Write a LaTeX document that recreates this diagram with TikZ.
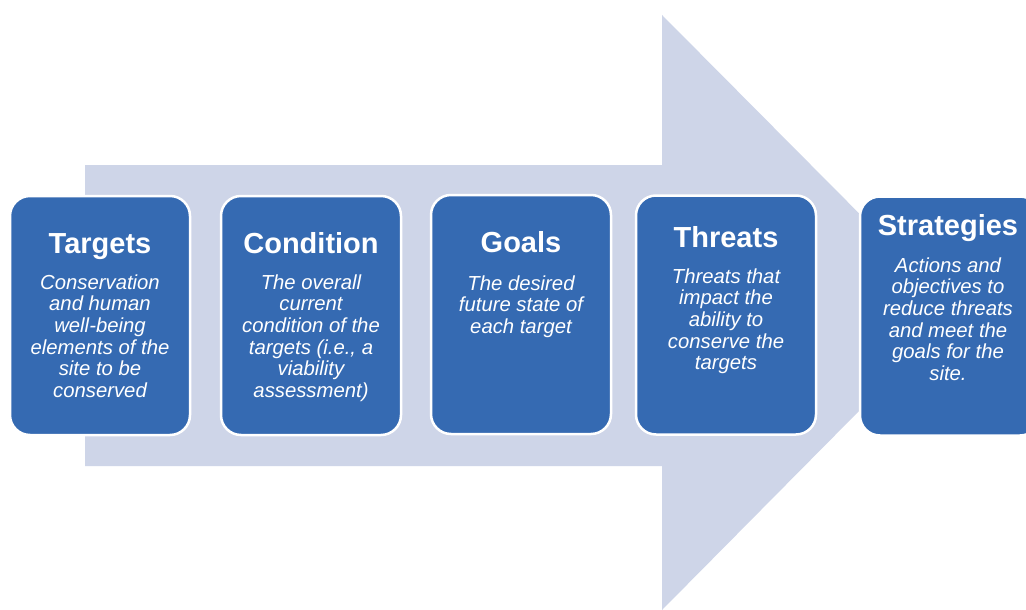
\documentclass[tikz,border=0pt]{standalone}
\usepackage{fontspec}
\setmainfont{Liberation Sans}
\definecolor{boxblue}{HTML}{356AB2}
\definecolor{arrowgray}{HTML}{CED5E8}
\tikzset{
  stagebox/.style={draw=white, line width=2.5pt, fill=boxblue, rounded corners=20pt, minimum width=180pt, minimum height=239pt, inner sep=0pt},
  stagetitle/.style={text=white, font=\fontsize{29}{33}\selectfont\bfseries, anchor=base, inner sep=0pt},
  stagebody/.style={text=white, font=\fontsize{20.3}{21.7}\selectfont\itshape, anchor=base, align=center, inner sep=0pt},
}
\begin{document}
\begin{tikzpicture}[x=1pt,y=-1pt]
\useasboundingbox (0,0) rectangle (1026,610);
\clip (0,0) rectangle (1026,610);
\fill[white] (0,0) rectangle (1026,610);
% big arrow
\fill[arrowgray] (85,165) -- (662,165) -- (662,15) -- (957,312) -- (662,610) -- (662,466) -- (85,466) -- cycle;
% boxes
\node[stagebox] (targets) at (100,315.5) {};
\node[stagebox] (condition) at (311,315.5) {};
\node[stagebox] (goals) at (521,314.5) {};
\node[stagebox] (threats) at (726,315) {};
\node[stagebox] (strategies) at (950,316) {};
% titles
\node[stagetitle] (t1) at (100,253) {Targets};
\node[stagetitle] (t2) at (311,253) {Condition};
\node[stagetitle] (t3) at (521,252) {Goals};
\node[stagetitle] (t4) at (726,247) {Threats};
\node[stagetitle] (t5) at (948,235) {Strategies};
% bodies (base = last line's baseline)
\node[stagebody] (b1) at (100,397.5) {Conservation\\and human\\well-being\\elements of the\\site to be\\conserved};
\node[stagebody] (b2) at (311,397.5) {The overall\\current\\condition of the\\targets (i.e., a\\viability\\assessment)};
\node[stagebody] (b3) at (521,333.4) {The desired\\future state of\\each target};
\node[stagebody] (b4) at (726,369.8) {Threats that\\impact the\\ability to\\conserve the\\targets};
\node[stagebody] (b5) at (948,380.5) {Actions and\\objectives to\\reduce threats\\and meet the\\goals for the\\site.};
\end{tikzpicture}
\end{document}
